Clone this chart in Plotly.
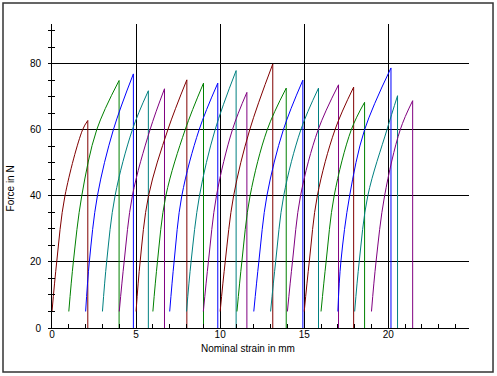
import plotly.graph_objects as go

# ---- data ----
start_strain = [0, 1, 2, 3, 4, 5, 6, 7, 8, 9, 10, 11, 12, 13, 14, 15, 16, 17, 18, 19]
start_force = 5
strain_at_20N = [0.28, 1.27, 2.22, 3.25, 4.29, 5.24, 6.27, 7.26, 8.27, 9.30,
                 10.30, 11.29, 12.30, 13.30, 14.30, 15.30, 16.30, 17.18, 18.27, 19.27]
strain_at_40N = [0.77, 1.77, 2.70, 3.75, 4.78, 5.74, 6.77, 7.72, 8.77, 9.78,
                 10.80, 11.78, 12.78, 13.78, 14.78, 15.78, 16.78, 17.70, 18.78, 19.78]
strain_at_60N = [1.82, 2.66, 3.65, 4.78, 5.83, 6.89, 7.92, 8.75, 9.70, 10.73,
                 11.76, 12.80, 13.76, 14.80, 15.83, 16.83, 17.80, 18.59, 19.92, 20.71]
peak_strain = [2.13, 3.99, 4.84, 5.73, 6.69, 8.02, 9.01, 9.86, 10.95, 11.59,
               13.13, 13.93, 14.92, 15.85, 17.04, 17.94, 18.59, 20.16, 20.55, 21.45]
peak_force = [62.8, 74.9, 76.9, 71.8, 72.4, 75.1, 74.1, 74.1, 77.9, 71.3,
              79.9, 72.6, 75.0, 72.6, 73.6, 72.9, 68.3, 78.7, 70.3, 68.8]
colors = ["#800000", "#008000", "#0000ff", "#008080", "#800080"]

x_ticks_major = 5
x_ticks_minor = 1
y_ticks_major = 20
y_ticks_minor = 5

fig = go.Figure()
for i in range(len(start_strain)):
    c = colors[i % len(colors)]
    xs = [start_strain[i], strain_at_20N[i], strain_at_40N[i], strain_at_60N[i], peak_strain[i]]
    ys = [start_force, 20, 40, 60, peak_force[i]]
    fig.add_trace(go.Scatter(x=xs, y=ys, mode="lines",
                             line=dict(color=c, width=1, shape="spline", smoothing=1.0),
                             showlegend=False, hoverinfo="skip"))
    fig.add_trace(go.Scatter(x=[peak_strain[i], peak_strain[i]], y=[peak_force[i], 0],
                             mode="lines", line=dict(color=c, width=1),
                             showlegend=False, hoverinfo="skip"))

# invisible trace on the overlay axis so its ticks are drawn
fig.add_trace(go.Scatter(x=[0], y=[0], yaxis="y2", mode="markers",
                         marker=dict(opacity=0), showlegend=False, hoverinfo="skip"))

font = dict(family="Arial, Liberation Sans, sans-serif", size=10, color="black")

fig.update_layout(
    width=497, height=376,
    margin=dict(l=52, r=28, t=24, b=48),
    paper_bgcolor="white", plot_bgcolor="white",
    font=font,
    xaxis=dict(range=[0, 24.8], tickmode="linear", tick0=0, dtick=x_ticks_major,
               ticks="inside", ticklen=4, tickcolor="black", tickwidth=1,
               showline=True, linecolor="black", linewidth=1,
               showgrid=True, gridcolor="black", gridwidth=1, zeroline=False,
               minor=dict(dtick=x_ticks_minor, tick0=0, ticks="inside", ticklen=4,
                          tickcolor="black", showgrid=False),
               tickfont=font, ticklabelstandoff=-3),
    yaxis=dict(range=[0, 92], tickmode="linear", tick0=0, dtick=y_ticks_major,
               ticks="outside", ticklen=3, tickcolor="black", tickwidth=1,
               showline=True, linecolor="black", linewidth=1,
               showgrid=True, gridcolor="black", gridwidth=1, zeroline=False,
               minor=dict(dtick=y_ticks_minor, tick0=0, ticks="outside", ticklen=3,
                          tickcolor="black", showgrid=False),
               tickfont=font, ticklabelstandoff=5),
    yaxis2=dict(range=[0, 92], overlaying="y", side="left", tickmode="linear", tick0=0,
                dtick=y_ticks_major, ticks="inside", ticklen=3, tickcolor="black",
                showticklabels=False, showgrid=False, showline=False, zeroline=False,
                minor=dict(dtick=y_ticks_minor, tick0=0, ticks="inside", ticklen=3,
                           tickcolor="black", showgrid=False)),
    annotations=[
        dict(text="Nominal strain in mm", xref="paper", yref="paper", x=0.47, y=-0.069,
             showarrow=False, font=font, xanchor="center", yanchor="middle"),
        dict(text="Force in N", xref="paper", yref="paper", x=-0.10, y=0.46,
             showarrow=False, font=font, textangle=-90, xanchor="center", yanchor="middle"),
    ],
    shapes=[dict(type="rect", xref="paper", yref="paper", x0=-0.1175, x1=1.0576,
                 y0=-0.1447, y1=1.069, line=dict(color="#333333", width=1.5),
                 fillcolor="rgba(0,0,0,0)", layer="below")],
)

fig.write_html("out.html", config={"displayModeBar": False},
               post_script="document.body.style.margin='0';")
